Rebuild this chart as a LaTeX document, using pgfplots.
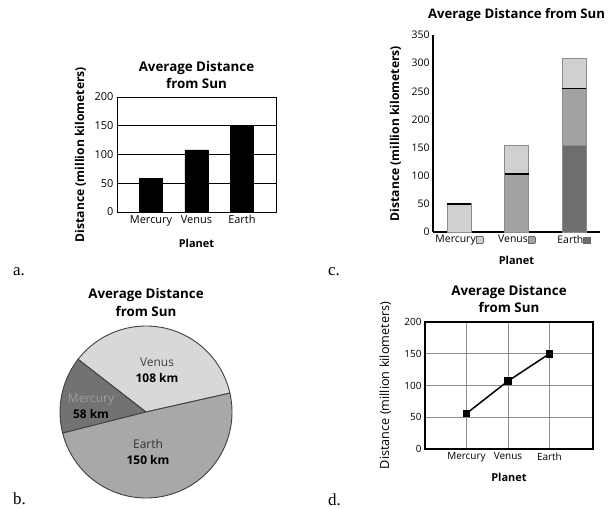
\documentclass[border=0pt]{standalone}
\usepackage{pgfplots}
\pgfplotsset{compat=1.18}
\usepackage{fontspec}
\setmainfont{Open Sans}
\newfontfamily\panelfont{Liberation Serif}

\definecolor{barlight}{HTML}{D0D0D0}
\definecolor{barmed}{HTML}{A2A2A2}
\definecolor{bardark}{HTML}{6E6E6E}
\definecolor{pielight}{HTML}{D8D8D8}
\definecolor{piemed}{HTML}{A8A8A8}
\definecolor{piedark}{HTML}{727272}

\newcommand{\keybox}[1]{{\setlength\fboxsep{0pt}\setlength\fboxrule{0.8bp}\fcolorbox{black!60}{#1}{\rule{0pt}{6bp}\hspace{6bp}}}}

\pgfplotsset{
  chart/.style={
    scale only axis,
    /pgf/number format/assume math mode=true,
    tick label style={font=\fontsize{10.5}{12}\selectfont},
    major tick length=0pt,
    title style={font=\bfseries\fontsize{13.4}{17}\selectfont, align=center,
      at={(axis description cs:0.5,1)}, anchor=south, inner sep=0pt},
    xlabel style={font=\bfseries\fontsize{11}{13}\selectfont, anchor=base, inner sep=0pt},
    ylabel style={font=\bfseries\fontsize{12.2}{14}\selectfont, rotate=0, anchor=base, inner sep=0pt},
  },
}

\begin{document}
\begin{tikzpicture}
\useasboundingbox (0,0) rectangle (613bp,-509bp);

% a. plain bar chart
\begin{axis}[chart,
  at={(117bp,-212bp)}, anchor=south west, width=159bp, height=115bp,
  xmin=-0.75, xmax=2.75, ymin=0, ymax=200,
  ytick={0,50,...,200}, xtick={0,1,2}, xticklabels={Mercury,Venus,Earth},
  tick label style={font=\fontsize{11}{12}\selectfont},
  ymajorgrids, grid style={black, line width=0.7bp},
  axis line style={line width=0.8bp},
  title={Average Distance\\from Sun},
  title style={yshift=2bp},
  xlabel={Planet},
  xlabel style={at={([yshift=-35bp]axis description cs:0.5,0)}},
  ylabel={Distance (million kilometers)},
  ylabel style={at={([xshift=-33bp]axis description cs:0,0.5)}},
]
\addplot[ybar, bar width=23bp, bar shift=0pt, fill=black, draw=black]
  coordinates {(0,58) (1,108) (2,150)};
\end{axis}

% c. stacked bar chart (segment tops)
\begin{axis}[chart,
  at={(433bp,-232bp)}, anchor=south west, width=167bp, height=197bp,
  xmin=-0.46, xmax=2.45, ymin=0, ymax=350,
  ytick={0,50,...,350}, xtick={0,1,2},
  xticklabels={Mercury\keybox{barlight},Venus\keybox{barmed},Earth\keybox{bardark}},
  axis x line*=bottom, axis y line*=left,
  axis line style={line width=1.5bp, -},
  title={Average Distance from Sun},
  title style={font=\bfseries\fontsize{13.2}{15}\selectfont, yshift=7.5bp},
  xlabel={Planet},
  xlabel style={at={([yshift=-32.5bp]axis description cs:0.5,0)}},
  ylabel={Distance (million kilometers)},
  ylabel style={at={([xshift=-34bp]axis description cs:0,0.5)}},
]
\addplot[ybar, bar width=24bp, bar shift=0pt, fill=barlight, draw=black!45, line width=1bp]
  coordinates {(0,50) (1,153) (2,308)};
\addplot[ybar, bar width=24bp, bar shift=0pt, fill=barmed, draw=black!45, line width=1bp]
  coordinates {(1,103) (2,255)};
\addplot[ybar, bar width=24bp, bar shift=0pt, fill=bardark, draw=black!45, line width=1bp]
  coordinates {(2,153)};
\addplot[only marks, mark=-, mark size=12bp, mark options={black, line width=1.6bp}]
  coordinates {(0,50) (1,103) (2,255)};
\end{axis}

% b. pie chart
\begin{axis}[hide axis, scale only axis, clip=false,
  at={(146bp,-412bp)}, anchor=center, width=172bp, height=172bp,
  xmin=-86, xmax=86, ymin=-86, ymax=86,
]
% slice angles: Venus 12.7-142.2, Mercury 142.2-194.2, Earth 194.2-372.7
\draw[fill=pielight, draw=black!75, line width=0.9bp] (axis cs:0,0) -- (axis cs:{86*cos(12.7)},{86*sin(12.7)})
  arc[start angle=12.7, end angle=142.2, radius=86bp] -- cycle;
\draw[fill=piedark, draw=black!75, line width=0.9bp] (axis cs:0,0) -- (axis cs:{86*cos(142.2)},{86*sin(142.2)})
  arc[start angle=142.2, end angle=194.2, radius=86bp] -- cycle;
\draw[fill=piemed, draw=black!75, line width=0.9bp] (axis cs:0,0) -- (axis cs:{86*cos(194.2)},{86*sin(194.2)})
  arc[start angle=194.2, end angle=372.7, radius=86bp] -- cycle;
\node[align=center, font=\fontsize{12}{16}\selectfont] at (axis cs:11,41.5)
  {{\color{black!75}Venus}\\\textbf{108 km}};
\node[align=center, font=\fontsize{12}{16}\selectfont] at (axis cs:-55,6)
  {{\color{black!38}Mercury}\\\textbf{58 km}};
\node[align=center, font=\fontsize{12}{16}\selectfont] at (axis cs:2,-40)
  {{\color{black!80}Earth}\\\textbf{150 km}};
\node[align=center, anchor=south, inner sep=0pt, font=\bfseries\fontsize{13.4}{18}\selectfont]
  at ([yshift=9bp]axis description cs:0.5,1) {Average Distance\\from Sun};
\end{axis}

% d. line chart
\begin{axis}[chart,
  at={(425bp,-449bp)}, anchor=south west, width=168bp, height=127bp,
  xmin=-1, xmax=3.05, ymin=0, ymax=200,
  ytick={0,50,...,200}, xtick={0,1,2}, xticklabels={Mercury,Venus,Earth},
  tick label style={font=\fontsize{10}{12}\selectfont},
  grid=major, grid style={black!45, line width=0.7bp},
  axis line style={line width=1.2bp},
  title={Average Distance\\from Sun},
  title style={yshift=3bp},
  xlabel={Planet},
  xlabel style={at={([yshift=-32bp]axis description cs:0.5,0)}},
  ylabel={Distance (million kilometers)},
  ylabel style={font=\fontsize{12.7}{14}\selectfont, at={([xshift=-36bp]axis description cs:0,0.5)}},
]
\addplot[black, line width=1.5bp, mark=square*, mark size=3bp]
  coordinates {(0,56) (1,107) (2,150)};
\end{axis}

% panel letters
\node[anchor=base west, inner sep=0pt, font=\panelfont\fontsize{17}{20}\selectfont] at (13bp,-275bp) {a.};
\node[anchor=base west, inner sep=0pt, font=\panelfont\fontsize{17}{20}\selectfont] at (13bp,-504bp) {b.};
\node[anchor=base west, inner sep=0pt, font=\panelfont\fontsize{17}{20}\selectfont] at (328bp,-275bp) {c.};
\node[anchor=base west, inner sep=0pt, font=\panelfont\fontsize{17}{20}\selectfont] at (328bp,-505bp) {d.};
\end{tikzpicture}
\end{document}
